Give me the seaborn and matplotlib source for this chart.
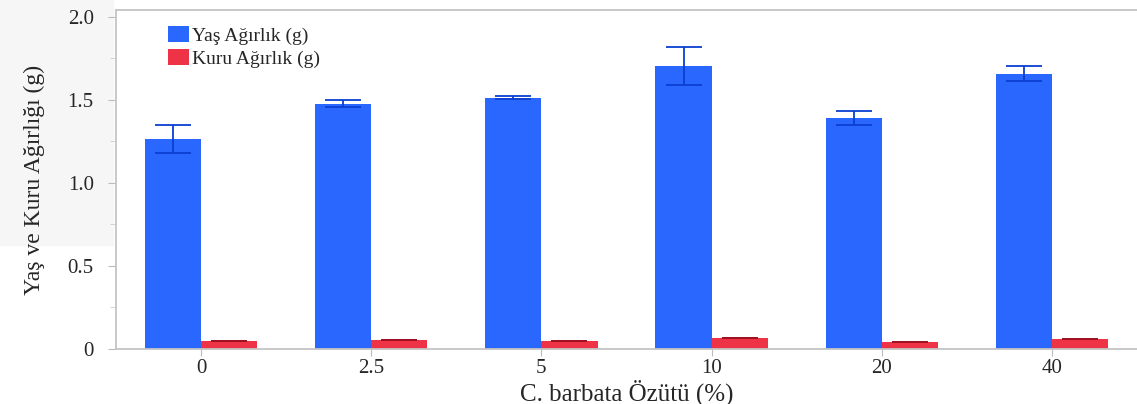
import numpy as np
import pandas as pd
import matplotlib
matplotlib.use("Agg")
import matplotlib.pyplot as plt
import seaborn as sns
from matplotlib.patches import Rectangle

# ── Data ─────────────────────────────────────────────────────────────────────
concentrations = ["0", "2.5", "5", "10", "20", "40"]
yas_agirlik = [1.265, 1.476, 1.512, 1.705, 1.390, 1.657]
yas_err = [0.085, 0.020, 0.010, 0.115, 0.045, 0.045]
kuru_agirlik = [0.048, 0.054, 0.048, 0.066, 0.042, 0.060]
kuru_err = [0.002, 0.002, 0.002, 0.002, 0.002, 0.002]
series = ["Yaş Ağırlık (g)", "Kuru Ağırlık (g)"]

df = pd.DataFrame({
    "conc": concentrations * 2,
    "value": yas_agirlik + kuru_agirlik,
    "err": yas_err + kuru_err,
    "series": [series[0]] * 6 + [series[1]] * 6,
})

sns.set_style("white")
plt.rcParams["font.family"] = ["Liberation Serif", "DejaVu Serif"]

fig = plt.figure(figsize=(11.37, 4.04), dpi=100)
# light grey panel behind the y label, as in the original
fig.patches.append(Rectangle((0, (404 - 245) / 404), 113 / 1137, 245 / 404,
                             transform=fig.transFigure, color="#f6f6f6", zorder=-1))
ax = fig.add_axes([116 / 1137, (404 - 349) / 404, (1137 - 116) / 1137, (349 - 10) / 404])
ax.patch.set_alpha(0)

palette = {series[0]: "#2967ff", series[1]: "#ee3346"}
sns.barplot(data=df, x="conc", y="value", hue="series", order=concentrations,
            hue_order=series, palette=palette, width=0.66, gap=0, dodge=True,
            errorbar=None, saturation=1, linewidth=0, ax=ax, zorder=2)

# error bars on top of each bar, positions taken from seaborn's patches
err_colors = {series[0]: "#0a3fd0", series[1]: "#a01020"}
for cont, name in zip(ax.containers, series):
    sub = df[df["series"] == name].set_index("conc").loc[concentrations]
    xs = [p.get_x() + p.get_width() / 2 for p in cont.patches]
    ax.errorbar(xs, sub["value"], yerr=sub["err"], fmt="none",
                ecolor=err_colors[name], elinewidth=1.3, capsize=13,
                capthick=1.3, zorder=3)

ax.set_xlim(-0.5, 5.5)
ax.set_ylim(0, 2.04)
ax.set_yticks([0, 0.5, 1.0, 1.5, 2.0])
ax.set_yticklabels(["0", "0.5", "1.0", "1.5", "2.0"])
ax.set_yticks(np.arange(0.25, 2.0, 0.5), minor=True)
ax.tick_params(axis="y", which="major", left=True, length=6, color="#bbbbbb",
               labelsize=15, pad=10)
ax.tick_params(axis="y", which="minor", left=True, length=4, color="#cccccc")
ax.tick_params(axis="x", bottom=True, length=5, color="#bbbbbb", labelsize=15, pad=2)

for side in ["left", "bottom", "top"]:
    ax.spines[side].set_color("#c4c4c4")
    ax.spines[side].set_linewidth(1.3)
ax.spines["right"].set_visible(False)

ax.set_xlabel("C. barbata Özütü (%)", fontsize=18, labelpad=1)
ax.set_ylabel("Yaş ve Kuru Ağırlığı (g)", fontsize=17, labelpad=16)

ax.legend(loc="upper left", bbox_to_anchor=(0.043, 0.975), frameon=False,
          fontsize=14, handlelength=1.1, handleheight=0.9, handletextpad=0.15,
          labelspacing=0.2, borderaxespad=0)

fig.savefig("out.png", dpi=100)
